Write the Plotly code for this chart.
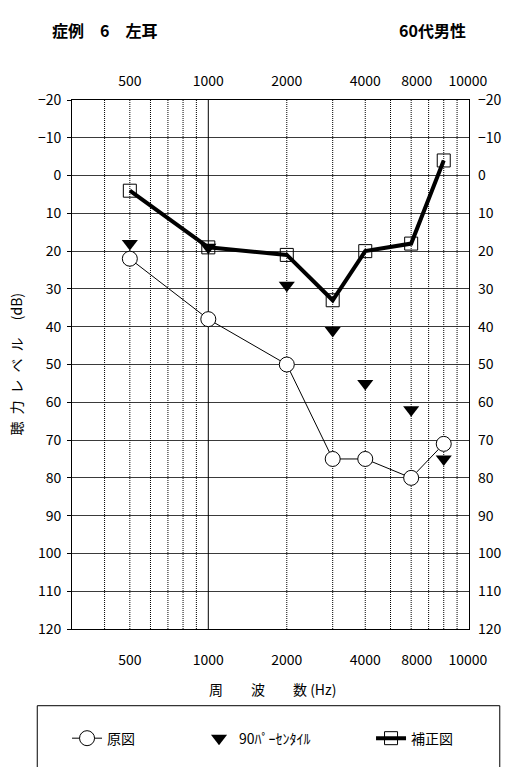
import math
import plotly.graph_objects as go

# Audiogram values (dB HL) per test frequency (Hz)
freqs = [500, 1000, 2000, 3000, 4000, 6000, 8000]
orig_db = [22, 38, 50, 75, 75, 80, 71]        # 原図
p90_db = [18, 19, 29, 41, 55, 62, 75]         # 90パーセンタイル
corr_db = [4, 19, 21, 33, 20, 18, -4]         # 補正図

x_tick_text = ["500", "1000", "2000", "4000", "8000", "10000"]
x_tick_pos = [500, 1000, 2000, 4000, 6300, 9900]
y_ticks = list(range(-20, 121, 10))
dotted_freqs = [400, 500, 600, 700, 800, 900, 2000, 3000, 4000, 5000, 6000, 7000, 8000, 9000]
solid_freqs = [1000]

W, H = 514, 767
L, R, T, B = 72, 42, 100, 136
FONT = "Noto Sans CJK JP"


def px_x(px):
    return (px - L) / (W - L - R)


def px_y(py):
    return (H - B - py) / (H - T - B)


def vlines(fs):
    xs, ys = [], []
    for f in fs:
        xs += [f, f, None]
        ys += [-20, 120, None]
    return xs, ys


fig = go.Figure()

dx, dy = vlines(dotted_freqs)
fig.add_trace(go.Scatter(x=dx, y=dy, mode="lines", showlegend=False, hoverinfo="skip",
                         line=dict(color="black", width=1, dash="1px,1px")))
sx, sy = vlines(solid_freqs)
fig.add_trace(go.Scatter(x=sx, y=sy, mode="lines", showlegend=False, hoverinfo="skip",
                         line=dict(color="black", width=1)))

fig.add_trace(go.Scatter(
    x=freqs, y=orig_db, mode="lines+markers", name="原図", legendwidth=87,
    line=dict(color="black", width=1),
    marker=dict(symbol="circle", size=15, color="white", line=dict(color="black", width=1)),
))
fig.add_trace(go.Scatter(
    x=freqs, y=p90_db, mode="markers", name="90ﾊﾟｰｾﾝﾀｲﾙ", legendwidth=127,
    marker=dict(symbol="triangle-down", size=14, color="black"),
))
fig.add_trace(go.Scatter(
    x=freqs, y=corr_db, mode="lines+markers", name="補正図",
    line=dict(color="black", width=4),
    marker=dict(symbol="square-open", size=13, color="black", line=dict(width=1)),
))
# companion trace so the top / right axes are rendered
fig.add_trace(go.Scatter(x=freqs, y=orig_db, xaxis="x2", yaxis="y2", mode="none",
                         showlegend=False, hoverinfo="skip"))

x_range = [math.log10(300), math.log10(10000)]
tickfont = dict(family=FONT, size=14, color="black")

fig.update_layout(
    width=W, height=H, autosize=False,
    margin=dict(l=L, r=R, t=T, b=B),
    paper_bgcolor="white", plot_bgcolor="white",
    font=dict(family=FONT, color="black"),
    xaxis=dict(type="log", range=x_range, showgrid=False, zeroline=False,
               tickmode="array", tickvals=x_tick_pos, ticktext=x_tick_text,
               ticks="", ticklabelstandoff=18, tickfont=tickfont,
               showline=True, linecolor="black", linewidth=1, mirror=True),
    xaxis2=dict(type="log", range=x_range, overlaying="x", side="top", matches="x",
                showgrid=False, zeroline=False, tickmode="array",
                tickvals=x_tick_pos, ticktext=x_tick_text, ticks="",
                ticklabelstandoff=10, tickfont=tickfont, showline=False),
    yaxis=dict(range=[120, -20], tickmode="array", tickvals=y_ticks,
               showgrid=True, gridcolor="#3a3a3a", gridwidth=1, zeroline=False,
               ticks="outside", ticklen=4, tickcolor="black", tickfont=tickfont,
               ticklabelstandoff=3,
               showline=True, linecolor="black", linewidth=1, mirror=True),
    yaxis2=dict(range=[120, -20], overlaying="y", side="right", matches="y",
                tickmode="array", tickvals=y_ticks, showgrid=False, zeroline=False,
                ticks="", tickfont=tickfont, ticklabelstandoff=8, showline=False),
    legend=dict(orientation="h", x=px_x(67), y=px_y(741), xanchor="left", yanchor="middle",
                bgcolor="rgba(0,0,0,0)", borderwidth=0,
                font=dict(family=FONT, size=14, color="black")),
    shapes=[dict(type="rect", xref="paper", yref="paper",
                 x0=px_x(37), x1=px_x(503), y0=px_y(790), y1=px_y(708),
                 line=dict(color="black", width=1), fillcolor="rgba(0,0,0,0)")],
    annotations=[
        dict(text="<b>症例　6　左耳</b>", xref="paper", yref="paper",
             x=px_x(50), y=px_y(30), xanchor="left", yanchor="middle",
             showarrow=False, font=dict(family=FONT, size=16, color="black")),
        dict(text="<b>60代男性</b>", xref="paper", yref="paper",
             x=px_x(399), y=px_y(30), xanchor="left", yanchor="middle",
             showarrow=False, font=dict(family=FONT, size=16, color="black")),
        dict(text="周　　波　　数 (Hz)", xref="paper", yref="paper",
             x=px_x(208), y=px_y(691), xanchor="left", yanchor="middle",
             showarrow=False, font=dict(family=FONT, size=14, color="black")),
        dict(text="聴\u2002力\u2002レ\u2002ベ\u2002ル\u3000 (dB)", xref="paper", yref="paper",
             x=px_x(16), y=px_y(365), xanchor="center", yanchor="middle", textangle=-90,
             showarrow=False, font=dict(family=FONT, size=14, color="black")),
    ],
)

fig.write_html("out.html")
